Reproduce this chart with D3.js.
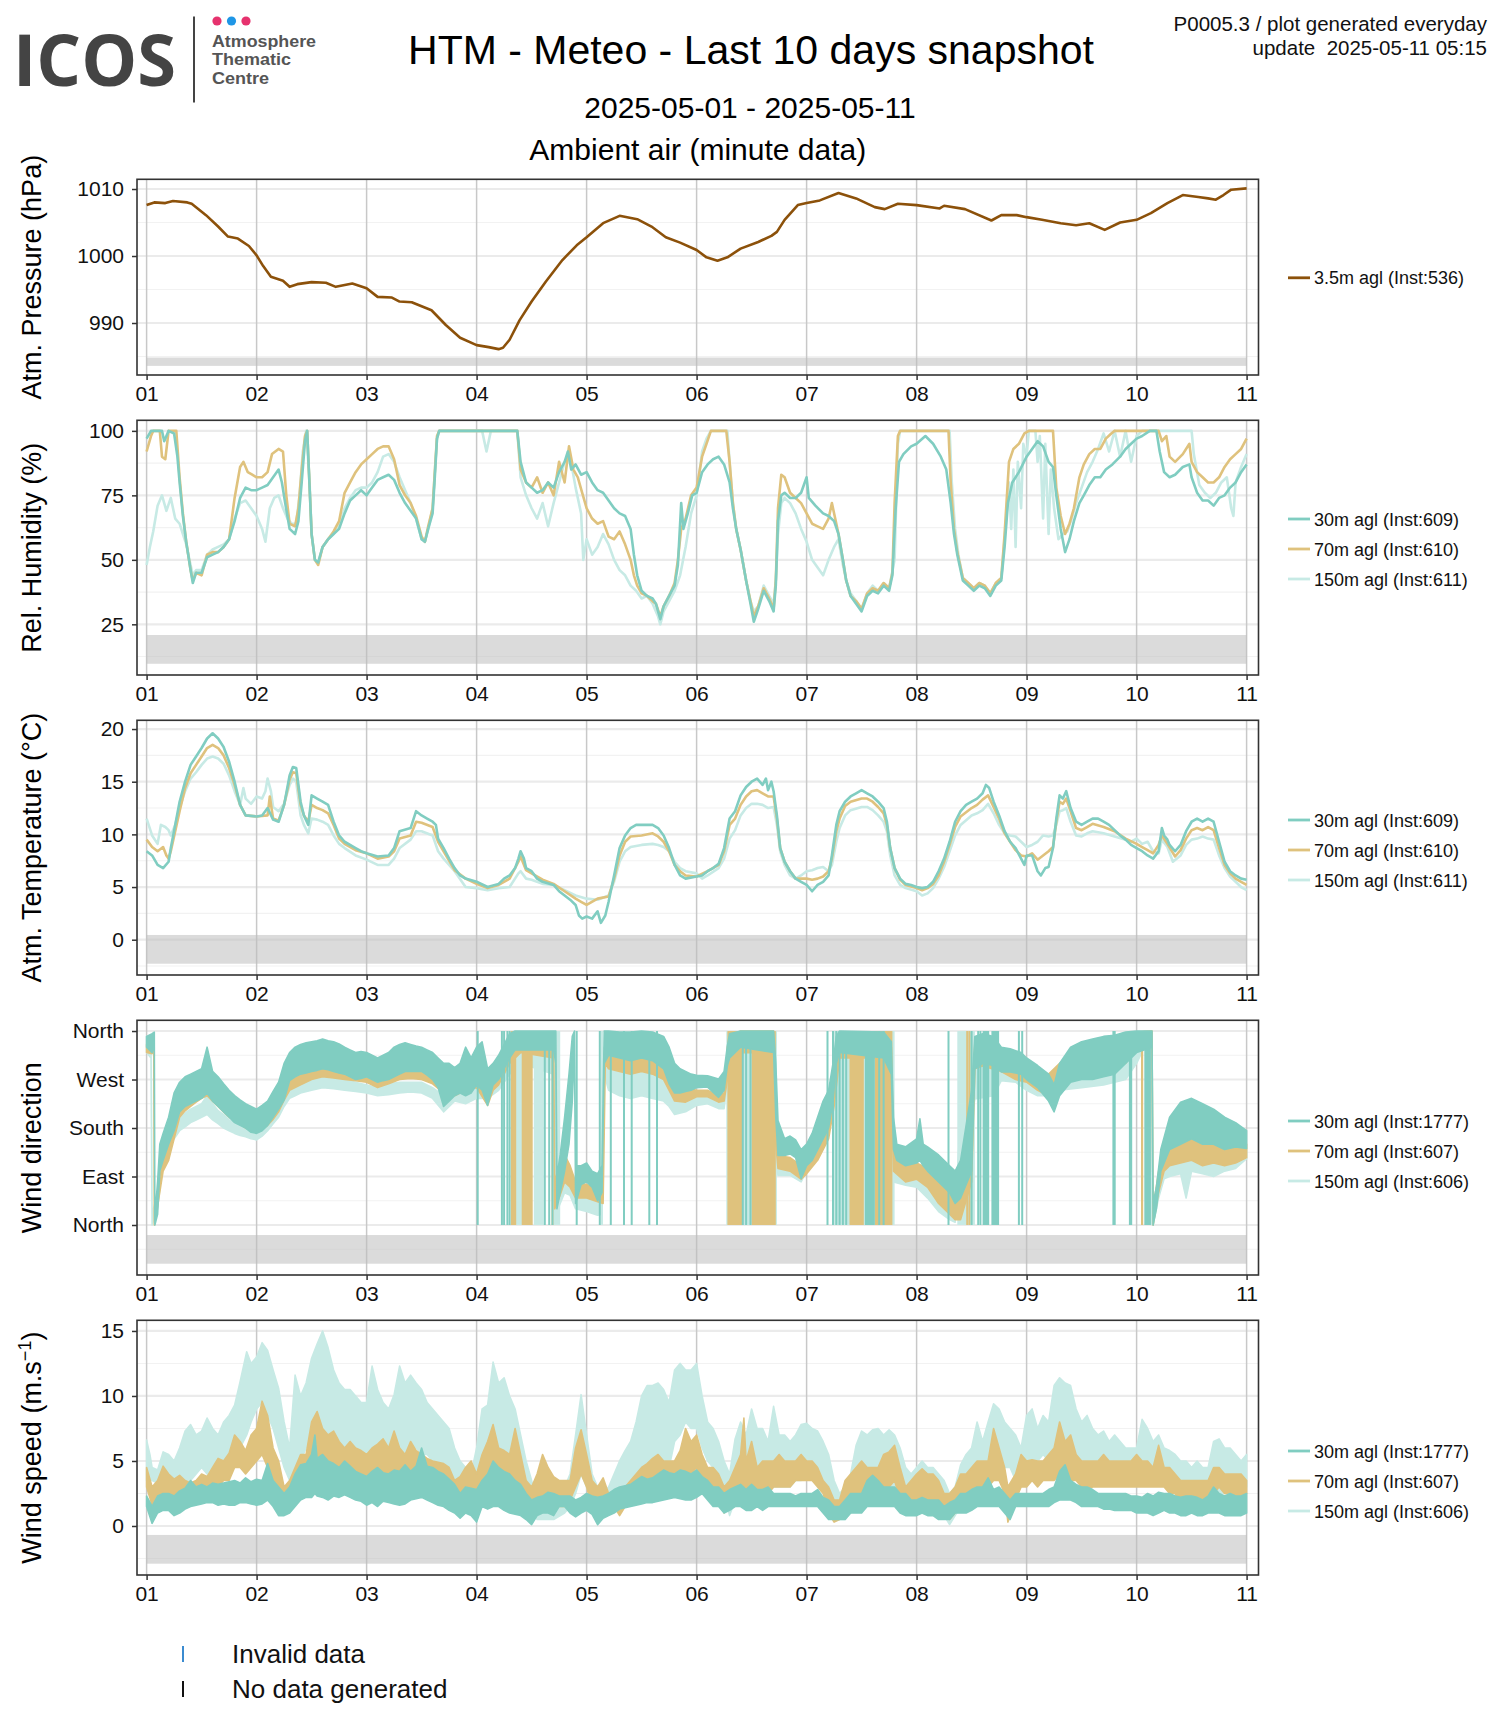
<!DOCTYPE html>
<html>
<head>
<meta charset="utf-8">
<script src="https://cdn.jsdelivr.net/npm/d3@7"></script>
<style>
  body { margin: 0; background: #fff; }
  svg text { font-family: "Liberation Sans", Arial, Helvetica, sans-serif; }
</style>
</head>
<body>
<svg id="chart" width="1500" height="1725"></svg>
<script>
// ---- data (t = days since 2025-05-01 00:00) ----
const dayLabels = ['01', '02', '03', '04', '05', '06', '07', '08', '09', '10', '11'];
const legendP = ['3.5m agl (Inst:536)'];
const legendRH = ['30m agl (Inst:609)', '70m agl (Inst:610)', '150m agl (Inst:611)'];
const legendWind = ['30m agl (Inst:1777)', '70m agl (Inst:607)', '150m agl (Inst:606)'];

const pressure = [[0,1007.6],[0.07,1008],[0.17,1007.9],[0.24,1008.2],[0.37,1008],[0.41,1007.8],[0.54,1006.1],[0.65,1004.4],[0.74,1002.9],[0.83,1002.6],[0.93,1001.5],[1,1000.1],[1.06,998.5],[1.13,996.9],[1.24,996.3],[1.3,995.4],[1.37,995.8],[1.5,996.1],[1.63,996],[1.72,995.4],[1.87,995.9],[2,995.2],[2.1,993.9],[2.23,993.8],[2.3,993.2],[2.41,993.1],[2.59,991.9],[2.72,989.7],[2.85,987.8],[3,986.7],[3.11,986.4],[3.2,986.1],[3.24,986.3],[3.3,987.5],[3.39,990.4],[3.5,993.2],[3.63,996.2],[3.78,999.4],[3.91,1001.6],[4,1002.8],[4.15,1004.9],[4.3,1006],[4.46,1005.5],[4.59,1004.4],[4.72,1002.8],[4.85,1002],[5,1000.9],[5.09,999.8],[5.19,999.3],[5.28,999.8],[5.4,1001.1],[5.56,1002.1],[5.68,1003],[5.73,1003.6],[5.8,1005.4],[5.92,1007.6],[6,1007.9],[6.12,1008.3],[6.29,1009.4],[6.45,1008.6],[6.62,1007.3],[6.71,1007],[6.83,1007.8],[7,1007.6],[7.21,1007.1],[7.25,1007.5],[7.44,1007],[7.68,1005.3],[7.77,1006.1],[7.91,1006.1],[8,1005.8],[8.14,1005.4],[8.31,1004.9],[8.45,1004.6],[8.57,1004.9],[8.71,1003.9],[8.85,1005],[9,1005.4],[9.13,1006.4],[9.28,1007.9],[9.42,1009.1],[9.56,1008.8],[9.65,1008.6],[9.72,1008.4],[9.79,1009.1],[9.86,1009.9],[10,1010.1]];

const rh30 = [[0,97],[0.04,100],[0.14,100],[0.16,96],[0.2,100],[0.25,99],[0.28,90],[0.3,80],[0.33,67],[0.36,57],[0.4,46],[0.42,41],[0.45,45],[0.5,45],[0.55,51],[0.6,52],[0.65,53],[0.7,55],[0.75,58],[0.8,65],[0.85,74],[0.9,78],[0.95,77],[1,77],[1.05,78],[1.1,79],[1.15,82],[1.2,85],[1.23,80],[1.26,72],[1.3,62],[1.35,60],[1.38,65],[1.41,80],[1.44,96],[1.46,100],[1.48,80],[1.5,60],[1.53,50],[1.56,49],[1.6,55],[1.65,58],[1.7,60],[1.75,62],[1.8,68],[1.85,73],[1.9,75],[1.95,77],[2,75],[2.05,78],[2.1,81],[2.15,82],[2.2,83],[2.25,81],[2.3,76],[2.35,72],[2.4,69],[2.45,66],[2.5,58],[2.53,57],[2.56,62],[2.6,68],[2.62,82],[2.64,97],[2.66,100],[3.37,100],[3.4,88],[3.45,80],[3.5,78],[3.55,76],[3.6,77],[3.65,80],[3.7,78],[3.75,84],[3.8,88],[3.83,92],[3.86,85],[3.9,87],[3.95,83],[4,84],[4.05,80],[4.1,77],[4.15,76],[4.2,73],[4.25,70],[4.3,68],[4.35,67],[4.4,62],[4.43,52],[4.46,44],[4.5,38],[4.55,36],[4.6,35],[4.63,33],[4.67,27],[4.7,32],[4.75,36],[4.8,40],[4.83,48],[4.86,72],[4.88,62],[4.92,68],[4.96,75],[5,76],[5.05,84],[5.1,87],[5.15,89],[5.2,90],[5.25,87],[5.3,80],[5.33,70],[5.36,62],[5.4,54],[5.45,42],[5.49,33],[5.52,26],[5.56,31],[5.61,38],[5.66,34],[5.7,30],[5.72,40],[5.74,65],[5.77,75],[5.8,76],[5.85,74],[5.9,74],[5.95,76],[6,82],[6.02,74],[6.08,71],[6.15,68],[6.2,67],[6.25,65],[6.29,60],[6.33,50],[6.36,42],[6.4,36],[6.45,33],[6.5,30],[6.55,36],[6.6,38],[6.65,37],[6.7,40],[6.75,38],[6.78,44],[6.81,70],[6.84,88],[6.88,91],[6.95,94],[7,95],[7.08,98],[7.15,95],[7.22,90],[7.27,85],[7.31,72],[7.34,60],[7.37,52],[7.42,42],[7.47,40],[7.52,38],[7.57,40],[7.62,39],[7.67,36],[7.72,40],[7.77,42],[7.8,55],[7.83,72],[7.87,80],[7.93,84],[8,90],[8.05,93],[8.1,96],[8.15,94],[8.2,88],[8.24,86],[8.27,75],[8.31,62],[8.35,53],[8.39,58],[8.43,65],[8.48,72],[8.52,75],[8.57,79],[8.62,82],[8.67,82],[8.72,85],[8.78,87],[8.85,90],[8.9,93],[8.95,95],[9,97],[9.05,98],[9.12,100],[9.18,100],[9.21,92],[9.25,84],[9.3,82],[9.35,83],[9.42,86],[9.48,87],[9.5,82],[9.55,76],[9.6,73],[9.65,73],[9.7,71],[9.75,74],[9.8,75],[9.85,78],[9.9,80],[9.95,84],[10,87]];

const rh70 = [[0,92],[0.04,98],[0.06,100],[0.12,100],[0.14,90],[0.17,89],[0.2,100],[0.27,100],[0.3,82],[0.33,68],[0.36,57],[0.4,46],[0.42,42],[0.45,45],[0.5,44],[0.55,52],[0.6,53],[0.65,53],[0.7,55],[0.75,58],[0.8,74],[0.85,86],[0.88,88],[0.92,84],[0.96,83],[1,82],[1.05,82],[1.1,84],[1.14,91],[1.2,93],[1.24,92],[1.27,75],[1.3,64],[1.35,63],[1.38,70],[1.41,85],[1.44,98],[1.46,100],[1.48,80],[1.5,60],[1.53,50],[1.56,48],[1.6,55],[1.65,58],[1.7,61],[1.75,65],[1.8,76],[1.85,80],[1.9,84],[1.95,87],[2,89],[2.05,91],[2.1,93],[2.15,94],[2.2,94],[2.25,89],[2.3,79],[2.35,75],[2.4,72],[2.45,67],[2.5,59],[2.53,57],[2.56,63],[2.6,70],[2.62,84],[2.64,98],[2.66,100],[3.37,100],[3.4,85],[3.45,80],[3.5,78],[3.55,82],[3.6,76],[3.65,80],[3.7,75],[3.75,88],[3.8,80],[3.84,94],[3.88,85],[3.92,82],[3.96,76],[4,70],[4.05,66],[4.1,64],[4.15,65],[4.2,59],[4.25,58],[4.3,61],[4.35,56],[4.4,50],[4.43,44],[4.46,40],[4.5,37],[4.55,36],[4.6,34],[4.63,33],[4.67,28],[4.7,32],[4.75,36],[4.8,41],[4.83,50],[4.86,62],[4.9,66],[4.95,75],[5,78],[5.05,90],[5.09,95],[5.13,100],[5.27,100],[5.3,88],[5.33,72],[5.36,62],[5.4,54],[5.45,42],[5.49,34],[5.52,28],[5.56,32],[5.61,39],[5.66,35],[5.7,31],[5.72,42],[5.74,70],[5.77,83],[5.8,82],[5.85,76],[5.9,74],[5.95,72],[6,68],[6.05,64],[6.1,63],[6.15,62],[6.2,66],[6.23,72],[6.26,66],[6.29,60],[6.33,50],[6.36,42],[6.4,36],[6.45,34],[6.5,31],[6.55,37],[6.6,39],[6.65,38],[6.7,41],[6.75,39],[6.78,45],[6.8,72],[6.83,98],[6.85,100],[7.29,100],[7.31,80],[7.34,62],[7.37,53],[7.42,43],[7.47,41],[7.52,39],[7.57,41],[7.62,40],[7.67,37],[7.72,41],[7.77,43],[7.8,60],[7.84,88],[7.88,93],[7.93,95],[7.98,99],[8.02,100],[8.24,100],[8.27,78],[8.31,67],[8.35,60],[8.39,64],[8.43,70],[8.48,82],[8.52,87],[8.57,91],[8.62,93],[8.67,93],[8.72,97],[8.77,99],[8.8,100],[9.2,100],[9.23,96],[9.27,98],[9.3,90],[9.35,88],[9.42,91],[9.48,95],[9.5,88],[9.55,84],[9.6,82],[9.65,80],[9.7,80],[9.75,82],[9.8,86],[9.85,89],[9.9,91],[9.95,93],[10,97]];

const rh150 = [[0,48],[0.03,55],[0.06,61],[0.1,71],[0.14,75],[0.18,69],[0.22,74],[0.26,66],[0.3,64],[0.33,60],[0.36,56],[0.4,48],[0.42,44],[0.45,46],[0.5,46],[0.55,52],[0.6,54],[0.65,55],[0.7,56],[0.75,58],[0.8,66],[0.85,72],[0.9,73],[0.95,70],[1,67],[1.05,62],[1.08,57],[1.12,70],[1.16,74],[1.2,75],[1.24,70],[1.28,66],[1.32,64],[1.36,64],[1.39,75],[1.42,92],[1.45,100],[1.48,82],[1.5,60],[1.53,50],[1.56,49],[1.6,55],[1.65,58],[1.7,60],[1.75,63],[1.8,70],[1.85,74],[1.9,77],[1.95,78],[2,78],[2.05,80],[2.1,84],[2.15,90],[2.2,91],[2.25,88],[2.3,82],[2.35,77],[2.4,72],[2.45,66],[2.5,58],[2.53,57],[2.56,62],[2.6,70],[2.62,84],[2.64,97],[2.66,100],[3.05,100],[3.09,92],[3.13,100],[3.37,100],[3.4,82],[3.45,75],[3.5,70],[3.55,66],[3.6,72],[3.65,63],[3.7,72],[3.75,80],[3.8,88],[3.85,90],[3.9,78],[3.95,68],[3.97,50],[4,58],[4.05,52],[4.1,55],[4.15,60],[4.2,56],[4.25,50],[4.3,46],[4.35,44],[4.4,40],[4.45,38],[4.5,35],[4.55,36],[4.6,33],[4.65,28],[4.67,25],[4.7,30],[4.75,34],[4.8,38],[4.85,44],[4.9,55],[4.95,68],[5,75],[5.05,92],[5.09,97],[5.13,100],[5.28,100],[5.3,88],[5.33,72],[5.36,62],[5.4,54],[5.45,42],[5.49,34],[5.52,30],[5.56,32],[5.61,40],[5.66,36],[5.7,33],[5.72,42],[5.74,60],[5.77,72],[5.8,74],[5.85,72],[5.9,68],[5.95,62],[6,57],[6.05,50],[6.1,47],[6.15,44],[6.2,50],[6.25,55],[6.29,58],[6.33,48],[6.36,42],[6.4,37],[6.45,34],[6.5,31],[6.55,37],[6.6,40],[6.65,38],[6.7,41],[6.75,39],[6.8,50],[6.83,95],[6.85,100],[7.3,100],[7.32,80],[7.35,62],[7.38,52],[7.42,43],[7.47,41],[7.52,39],[7.57,41],[7.62,40],[7.67,37],[7.72,41],[7.77,43],[7.8,58],[7.84,80],[7.86,62],[7.88,85],[7.9,55],[7.92,88],[7.95,70],[7.97,95],[8,90],[8.02,100],[8.08,100],[8.1,88],[8.12,98],[8.15,66],[8.17,95],[8.2,60],[8.22,85],[8.25,70],[8.29,58],[8.33,60],[8.37,61],[8.41,66],[8.45,72],[8.5,78],[8.55,84],[8.6,88],[8.65,93],[8.7,99],[8.75,92],[8.8,100],[8.85,90],[8.9,100],[8.95,88],[9,98],[9.05,100],[9.5,100],[9.52,91],[9.57,79],[9.62,76],[9.67,74],[9.72,76],[9.77,80],[9.82,82],[9.86,70],[9.88,67],[9.9,80],[9.95,86],[10,91]];

const temp30 = [[0,8.4],[0.05,8],[0.1,7.1],[0.15,6.8],[0.2,7.4],[0.22,8.7],[0.26,10.9],[0.3,13.1],[0.35,15],[0.4,16.6],[0.45,17.4],[0.5,18.2],[0.55,19.1],[0.6,19.6],[0.65,19.1],[0.7,18.3],[0.75,16.9],[0.8,15],[0.85,12.8],[0.9,11.8],[1,11.7],[1.05,11.8],[1.1,12.5],[1.15,11.4],[1.2,11.2],[1.25,12.8],[1.3,15.6],[1.33,16.4],[1.36,16.3],[1.4,13.1],[1.43,11.8],[1.47,10.9],[1.5,13.7],[1.55,13.4],[1.6,13.1],[1.65,12.8],[1.7,11.2],[1.75,9.9],[1.8,9.3],[1.9,8.7],[1.95,8.4],[2,8.2],[2.1,7.9],[2.2,8],[2.25,8.7],[2.3,10.3],[2.4,10.6],[2.45,12.2],[2.5,11.8],[2.55,11.5],[2.6,11.2],[2.63,10.9],[2.65,9.6],[2.7,8.7],[2.75,7.7],[2.8,6.8],[2.85,6.1],[2.9,5.8],[3,5.5],[3.1,5],[3.2,5.3],[3.25,5.8],[3.3,6.1],[3.35,6.8],[3.38,7.7],[3.4,8.4],[3.43,7.7],[3.45,6.8],[3.5,6.5],[3.55,5.8],[3.6,5.5],[3.7,5.2],[3.75,4.6],[3.8,4.2],[3.85,3.8],[3.9,3.3],[3.93,2.3],[3.96,2],[4,2.2],[4.05,2],[4.1,2.7],[4.13,1.6],[4.17,2.3],[4.2,3.6],[4.25,6.1],[4.3,8.7],[4.35,9.9],[4.4,10.6],[4.45,10.9],[4.5,10.9],[4.55,10.9],[4.6,10.9],[4.65,10.6],[4.7,9.9],[4.75,8.7],[4.8,7.1],[4.85,6.1],[4.9,5.8],[5,6],[5.05,6.1],[5.1,6.5],[5.15,6.8],[5.2,7.2],[5.25,8.7],[5.3,11.5],[5.35,12.2],[5.4,13.7],[5.45,14.5],[5.5,15],[5.55,15.3],[5.6,14.7],[5.63,15.3],[5.65,14.2],[5.68,15],[5.7,14.1],[5.73,11.8],[5.76,8.7],[5.8,7.4],[5.85,6.5],[5.9,5.8],[5.95,5.5],[6,5.2],[6.05,4.6],[6.1,5.2],[6.15,5.5],[6.2,6.1],[6.23,8],[6.27,10.9],[6.3,12.2],[6.35,13.1],[6.4,13.6],[6.45,13.9],[6.5,14.2],[6.55,13.9],[6.6,13.6],[6.65,13.1],[6.7,12.5],[6.73,11.2],[6.76,8.7],[6.8,6.8],[6.85,5.8],[6.9,5.3],[6.95,5.2],[7,5],[7.05,4.9],[7.1,5],[7.15,5.5],[7.2,6.5],[7.25,7.7],[7.3,9.3],[7.35,11.2],[7.4,12.2],[7.45,12.8],[7.5,13.1],[7.55,13.4],[7.6,13.9],[7.63,14.7],[7.66,14.4],[7.7,13.1],[7.75,11.8],[7.8,10.3],[7.85,9.3],[7.9,8.7],[7.95,7.7],[7.98,7.1],[8,8],[8.05,8],[8.1,6.5],[8.13,6.1],[8.17,6.8],[8.2,6.9],[8.24,8.7],[8.27,11.5],[8.3,13.7],[8.33,13.4],[8.36,14.1],[8.4,12.5],[8.45,11.2],[8.5,10.9],[8.55,11.2],[8.6,11.5],[8.65,11.5],[8.7,11.2],[8.75,10.9],[8.8,10.4],[8.85,9.9],[8.9,9.5],[8.95,9],[9,8.7],[9.05,8.4],[9.1,8],[9.15,7.7],[9.2,8.4],[9.23,10.6],[9.25,9.9],[9.28,9.5],[9.3,9],[9.35,8.4],[9.4,9],[9.45,10.3],[9.5,11.2],[9.55,11.5],[9.6,11.2],[9.65,11.5],[9.7,11.2],[9.75,9.3],[9.8,7.4],[9.85,6.5],[9.9,6.1],[9.95,5.8],[10,5.7]];

const temp70 = [[0,9.5],[0.05,8.8],[0.1,8.4],[0.15,8.8],[0.18,8],[0.2,7.7],[0.22,8.4],[0.26,10.3],[0.3,12.2],[0.35,14.4],[0.4,15.8],[0.45,16.6],[0.5,17.4],[0.55,18.2],[0.6,18.5],[0.65,18.2],[0.7,17.5],[0.75,16.3],[0.8,14.7],[0.85,12.8],[0.9,11.8],[1,11.7],[1.1,11.8],[1.12,13.6],[1.15,11.5],[1.2,11.3],[1.25,12.8],[1.3,15.2],[1.33,15.9],[1.36,15.8],[1.4,12.8],[1.43,11.8],[1.47,11.2],[1.5,12.8],[1.55,12.5],[1.6,12.3],[1.65,12],[1.7,10.9],[1.75,9.6],[1.8,9.1],[1.9,8.5],[2,8.2],[2.1,7.7],[2.2,7.9],[2.25,8.4],[2.3,9.6],[2.4,9.9],[2.45,11.2],[2.5,11.1],[2.6,10.7],[2.65,9.3],[2.7,8.4],[2.8,6.6],[2.9,5.8],[3,5.3],[3.1,4.9],[3.2,5.2],[3.3,5.8],[3.38,7.4],[3.4,7.9],[3.45,6.6],[3.5,6.3],[3.6,5.7],[3.7,5.3],[3.8,4.6],[3.9,3.9],[3.95,3.6],[4,3.3],[4.1,3.9],[4.2,4.1],[4.25,5.8],[4.3,8],[4.35,9.3],[4.4,9.8],[4.5,9.9],[4.6,10.1],[4.65,9.8],[4.7,9.3],[4.75,8.4],[4.8,7.1],[4.85,6.5],[4.9,6.1],[5,6],[5.1,6.5],[5.2,7.1],[5.25,8.4],[5.3,10.9],[5.35,11.5],[5.4,12.8],[5.45,13.6],[5.5,14.1],[5.55,14.2],[5.6,13.9],[5.65,13.6],[5.7,13.6],[5.73,11.5],[5.76,8.7],[5.8,7.4],[5.85,6.5],[5.9,5.8],[6,5.8],[6.05,5.7],[6.1,5.8],[6.15,6],[6.2,6.5],[6.23,7.7],[6.27,10.3],[6.3,11.5],[6.35,12.7],[6.4,13.1],[6.5,13.4],[6.55,13.4],[6.6,13.1],[6.65,12.6],[6.7,12],[6.73,10.9],[6.76,8.7],[6.8,6.8],[6.85,5.7],[6.9,5.2],[7,4.9],[7.05,4.7],[7.1,4.9],[7.15,5.3],[7.2,6.1],[7.25,7.4],[7.3,9],[7.35,10.7],[7.4,11.7],[7.5,12.5],[7.55,12.8],[7.6,13.3],[7.65,13.7],[7.7,12.6],[7.75,11.5],[7.8,10.1],[7.85,9.3],[7.9,8.5],[7.95,8],[8,7.9],[8.05,8.2],[8.1,7.6],[8.15,8],[8.2,8.4],[8.24,8.8],[8.27,11.2],[8.3,13.1],[8.33,12.9],[8.36,13.4],[8.4,12.2],[8.45,10.6],[8.5,10.4],[8.55,10.7],[8.6,11],[8.7,10.7],[8.8,10.3],[8.9,9.6],[9,9.1],[9.05,8.8],[9.1,8.5],[9.15,8.2],[9.2,9],[9.23,9.9],[9.28,9.1],[9.35,7.9],[9.4,8.5],[9.45,9.6],[9.5,10.4],[9.55,10.6],[9.6,10.4],[9.65,10.7],[9.7,10.4],[9.75,8.7],[9.8,7.1],[9.85,6.3],[9.9,5.8],[9.95,5.5],[10,5.2]];

const temp150 = [[0,11.5],[0.05,9.9],[0.1,9.1],[0.13,10.9],[0.17,10.7],[0.2,10.4],[0.22,9.9],[0.26,10.9],[0.3,12.5],[0.35,14.1],[0.4,15.3],[0.45,15.9],[0.5,16.6],[0.55,17.2],[0.6,17.4],[0.65,17.2],[0.7,16.7],[0.75,15.6],[0.8,14.1],[0.85,12.8],[0.88,14.4],[0.9,13.4],[0.95,12.9],[1,13.6],[1.05,13.4],[1.08,14.1],[1.1,15.3],[1.13,14.1],[1.15,12.6],[1.2,12.2],[1.25,12.9],[1.3,14.7],[1.33,15.3],[1.36,15],[1.4,11.8],[1.43,10.9],[1.47,10.1],[1.5,11.5],[1.55,11.4],[1.6,11.2],[1.65,10.9],[1.7,9.9],[1.75,9.1],[1.8,8.7],[1.9,8],[2,7.6],[2.1,7.1],[2.2,7.1],[2.25,7.7],[2.3,8.7],[2.4,9.5],[2.45,10.3],[2.5,10.3],[2.6,9.9],[2.65,8.4],[2.7,7.7],[2.8,6.5],[2.9,5],[3,4.9],[3.1,4.7],[3.2,4.9],[3.3,5],[3.38,6.3],[3.4,6.5],[3.45,5.8],[3.5,5.7],[3.6,5.3],[3.7,5.2],[3.8,4.7],[3.9,4.2],[4,3.9],[4.1,3.8],[4.2,4.2],[4.25,5.5],[4.3,7.4],[4.35,8.4],[4.4,8.8],[4.5,9],[4.6,9.1],[4.65,9],[4.7,8.8],[4.75,8.4],[4.8,7.4],[4.85,6.8],[4.9,6.5],[5,6.3],[5.05,5.8],[5.1,6.1],[5.2,6.8],[5.25,7.7],[5.3,9.6],[5.35,10.4],[5.4,11.8],[5.45,12.5],[5.5,12.9],[5.55,12.9],[5.6,12.8],[5.65,12.5],[5.7,12.6],[5.73,10.9],[5.76,8.4],[5.8,7.1],[5.85,6.1],[5.9,5.8],[5.95,6.1],[6,6.5],[6.05,6.6],[6.1,6.8],[6.15,6.9],[6.2,6.5],[6.23,7.1],[6.27,9.3],[6.3,10.6],[6.35,11.8],[6.4,12.3],[6.5,12.6],[6.55,12.6],[6.6,12.3],[6.65,11.8],[6.7,11.2],[6.73,10.3],[6.76,8],[6.8,6.1],[6.85,5.2],[6.9,4.9],[7,4.6],[7.05,4.2],[7.1,4.4],[7.15,4.9],[7.2,5.8],[7.25,6.9],[7.3,8.4],[7.35,9.9],[7.4,10.9],[7.5,11.8],[7.55,12],[7.6,12.3],[7.65,12.9],[7.7,12],[7.75,10.9],[7.8,10.1],[7.85,9.9],[7.9,9.8],[7.95,9.3],[8,8.8],[8.05,9],[8.1,9.3],[8.15,9.9],[8.2,9.8],[8.24,9.9],[8.27,10.9],[8.3,12.2],[8.33,12.3],[8.36,12.5],[8.4,11.2],[8.45,9.9],[8.5,9.8],[8.55,10.1],[8.6,10.3],[8.7,10.1],[8.8,9.8],[8.9,9.5],[8.95,9.3],[9,9.6],[9.05,9.1],[9.1,9.3],[9.15,8.4],[9.2,8.2],[9.23,9.5],[9.28,8.8],[9.33,7.4],[9.4,8],[9.45,9],[9.5,9.5],[9.55,9.6],[9.6,9.8],[9.65,9.6],[9.7,9.5],[9.75,8],[9.8,6.8],[9.85,6],[9.9,5.5],[9.95,5],[10,4.7]];

// wind direction: [t, low, high] envelope of the minute trace (degrees)
const wdir30 = [[0,330,350],[0.05,320,355],[0.07,335,358],[0.075,0,15],[0.1,20,80],[0.12,100,150],[0.15,120,170],[0.2,150,200],[0.25,175,245],[0.3,210,265],[0.35,220,275],[0.4,225,280],[0.45,230,285],[0.5,235,290],[0.55,245,330],[0.6,230,285],[0.65,220,275],[0.7,210,262],[0.75,200,250],[0.8,190,240],[0.85,185,232],[0.9,180,225],[0.95,172,220],[1,170,215],[1.05,175,222],[1.1,185,230],[1.15,200,248],[1.2,215,265],[1.25,232,300],[1.3,268,320],[1.35,275,330],[1.4,280,335],[1.45,282,338],[1.5,285,340],[1.55,287,342],[1.6,290,345],[1.65,288,342],[1.7,285,340],[1.75,282,336],[1.8,280,330],[1.85,275,325],[1.9,270,320],[1.95,272,322],[2,275,320],[2.05,270,315],[2.1,265,310],[2.15,268,315],[2.2,270,320],[2.25,275,330],[2.3,280,335],[2.35,285,338],[2.4,285,335],[2.45,285,332],[2.5,285,330],[2.55,278,325],[2.6,270,320],[2.65,255,310],[2.7,220,300],[2.75,230,300],[2.8,240,292],[2.85,245,300],[2.9,240,330],[2.95,245,310],[3,260,330],[3.05,250,340],[3.1,222,290],[3.15,260,300],[3.2,270,315],[3.25,290,335],[3.3,310,355],[3.35,325,360],[3.7,325,360],[3.72,300,360],[3.73,30,90],[3.76,60,130],[3.8,100,200],[3.84,150,280],[3.87,230,350],[3.89,330,360],[3.9,40,110],[3.95,75,110],[4,80,115],[4.05,70,100],[4.1,45,95],[4.14,60,110],[4.16,300,360],[4.2,315,360],[4.3,310,358],[4.4,305,358],[4.5,310,360],[4.6,305,358],[4.7,290,350],[4.75,262,330],[4.8,245,300],[4.85,245,290],[4.9,248,285],[4.95,250,280],[5,255,278],[5.1,256,277],[5.2,237,271],[5.25,250,285],[5.28,296,333],[5.3,310,355],[5.4,330,360],[5.7,320,360],[5.72,200,300],[5.74,129,194],[5.8,129,160],[5.85,132,165],[5.9,125,158],[5.95,86,140],[6,110,150],[6.05,120,170],[6.1,140,200],[6.15,160,230],[6.2,180,250],[6.24,230,300],[6.27,300,350],[6.3,320,360],[6.7,310,358],[6.77,280,340],[6.79,140,200],[6.82,120,150],[6.9,110,145],[7,115,160],[7.03,120,197],[7.06,110,150],[7.1,100,145],[7.2,80,130],[7.3,60,110],[7.35,40,100],[7.4,50,120],[7.5,100,250],[7.53,290,350],[7.6,300,355],[7.7,296,350],[7.77,284,330],[7.85,284,327],[7.95,280,320],[8,270,310],[8.1,255,296],[8.2,230,280],[8.25,210,260],[8.3,240,300],[8.4,265,330],[8.5,270,340],[8.6,270,345],[8.7,275,350],[8.8,280,352],[8.9,300,358],[9,320,360],[9.14,330,360],[9.15,0,40],[9.18,30,70],[9.22,100,140],[9.3,140,200],[9.4,150,228],[9.5,160,235],[9.6,150,225],[9.7,150,215],[9.8,140,200],[9.9,145,190],[10,142,175]];

const wdir70 = [[0,320,335],[0.05,318,335],[0.065,320,342],[0.07,0,20],[0.1,35,60],[0.15,100,125],[0.2,120,160],[0.25,160,200],[0.3,200,240],[0.35,212,245],[0.4,220,250],[0.45,228,258],[0.5,235,265],[0.55,240,270],[0.6,230,255],[0.65,220,245],[0.7,210,235],[0.75,200,222],[0.8,195,215],[0.85,188,206],[0.9,180,200],[0.95,176,194],[1,172,190],[1.05,178,196],[1.1,185,205],[1.15,196,220],[1.2,210,235],[1.25,232,255],[1.3,250,270],[1.35,255,280],[1.4,260,290],[1.5,270,295],[1.6,275,300],[1.7,273,298],[1.8,270,295],[1.9,268,290],[2,265,285],[2.1,255,275],[2.2,262,285],[2.3,270,295],[2.4,272,295],[2.5,270,290],[2.6,262,285],[2.7,245,270],[2.8,240,265],[2.9,250,275],[3,255,290],[3.1,222,260],[3.15,250,275],[3.2,260,300],[3.3,300,340],[3.4,320,355],[3.7,310,350],[3.71,30,80],[3.75,50,110],[3.8,80,130],[3.85,70,110],[3.9,50,80],[4,50,75],[4.1,43,68],[4.15,40,70],[4.17,300,350],[4.2,290,340],[4.3,285,340],[4.4,280,335],[4.5,285,340],[4.6,280,335],[4.7,270,320],[4.75,250,290],[4.8,230,265],[4.9,228,255],[5,238,250],[5.1,238,250],[5.2,228,240],[5.25,230,245],[5.28,270,330],[5.3,300,350],[5.4,320,360],[5.7,320,360],[5.72,150,250],[5.74,105,129],[5.85,100,125],[5.95,85,110],[6,95,125],[6.1,120,160],[6.2,160,220],[6.25,220,280],[6.3,310,358],[6.7,310,358],[6.77,250,330],[6.79,100,140],[6.9,80,117],[7,85,115],[7.1,70,105],[7.2,40,90],[7.3,20,60],[7.35,10,40],[7.4,10,50],[7.5,80,200],[7.53,290,340],[7.6,295,335],[7.77,285,320],[7.9,270,300],[8,265,295],[8.1,250,285],[8.2,240,280],[8.3,260,300],[8.4,275,315],[8.5,280,320],[8.7,285,325],[8.9,300,340],[9,330,358],[9.14,330,360],[9.15,0,30],[9.2,60,100],[9.25,100,150],[9.3,110,160],[9.4,115,165],[9.5,120,165],[9.6,110,160],[9.7,115,150],[9.8,110,150],[9.9,115,145],[10,125,150]];

const wdir150 = [[0,320,350],[0.04,310,345],[0.05,0,20],[0.1,30,60],[0.15,125,150],[0.2,150,170],[0.25,160,185],[0.3,175,200],[0.35,182,208],[0.4,190,215],[0.45,195,220],[0.5,200,225],[0.55,205,240],[0.6,195,225],[0.65,188,212],[0.7,180,205],[0.75,175,195],[0.8,170,190],[0.85,166,185],[0.9,164,182],[0.95,160,178],[1,158,175],[1.05,165,185],[1.1,175,195],[1.15,188,210],[1.2,200,225],[1.25,220,242],[1.3,235,255],[1.35,240,260],[1.4,245,265],[1.5,250,275],[1.6,255,275],[1.7,253,272],[1.8,250,270],[1.9,248,265],[2,245,260],[2.1,240,255],[2.2,242,262],[2.3,245,265],[2.4,247,265],[2.5,245,265],[2.6,235,255],[2.7,210,240],[2.8,230,250],[2.9,225,250],[3,235,265],[3.1,235,250],[3.2,250,275],[3.3,280,320],[3.4,300,340],[3.7,280,330],[3.72,20,60],[3.76,40,80],[3.8,60,110],[3.85,55,90],[3.9,30,60],[4,25,55],[4.1,18,45],[4.14,20,50],[4.16,280,330],[4.2,250,320],[4.3,240,310],[4.4,235,300],[4.5,240,305],[4.6,235,300],[4.7,230,290],[4.75,220,265],[4.8,205,250],[4.9,210,245],[5,222,240],[5.1,225,238],[5.2,216,231],[5.25,216,228],[5.28,265,300],[5.3,280,330],[5.4,290,340],[5.7,290,340],[5.72,120,200],[5.74,92,111],[5.85,92,108],[5.95,80,100],[6,100,123],[6.1,140,170],[6.2,190,230],[6.25,230,260],[6.3,265,327],[6.7,265,327],[6.77,200,280],[6.79,80,110],[6.9,74,105],[7,70,100],[7.1,50,85],[7.2,25,70],[7.3,10,40],[7.35,5,30],[7.4,100,200],[7.53,234,296],[7.7,240,290],[7.77,268,290],[7.9,265,290],[8,250,285],[8.1,240,275],[8.2,240,270],[8.3,250,280],[8.5,255,285],[8.7,260,290],[8.9,270,300],[9,300,330],[9.07,330,360],[9.14,320,360],[9.15,0,25],[9.2,50,90],[9.25,86,130],[9.3,90,140],[9.4,95,145],[9.45,50,140],[9.5,100,150],[9.6,95,145],[9.7,90,140],[9.8,100,135],[9.9,105,135],[10,123,142]];

// stretches where the trace keeps wrapping North<->North (solid), and single wraps
const wdirWrap30 = [[6.53,6.62],[7.6,7.66],[7.68,7.75],[8.78,8.81],[8.93,8.96],[9.07,9.13]];
const wdirWrap70 = [[3.31,3.36],[3.41,3.51],[5.28,5.42],[5.5,5.72],[6.39,6.52],[6.62,6.78],[9.04,9.06]];
const wdirWrap150 = [[3.33,3.42],[3.52,3.61],[3.7,3.76],[5.27,5.73],[6.25,6.8],[7.37,7.53],[9.08,9.14]];
const wdirSpike30 = [3.01,3.23,3.25,3.28,3.3,3.62,3.66,3.69,3.91,4.12,4.22,4.34,4.41,4.57,4.64,5.42,5.45,5.49,6.19,6.24,6.27,6.3,6.33,6.36,6.66,6.7,7.29,7.5,7.56,7.58,7.93,7.96];
const wdirSpike70 = [3.69,6.56,6.58,7.46,7.48];
const wdirSpike150 = [4.14];

// wind speed: [t, low, high] envelope (m/s)
const wspd30 = [[0,1.5,2.3],[0.05,0.2,1.5],[0.1,1,2.3],[0.15,1.2,2.5],[0.2,1.2,2.5],[0.25,0.8,2.3],[0.3,1,2.7],[0.35,1.3,2.9],[0.4,1.5,3.5],[0.45,1.6,3],[0.5,1.7,3.2],[0.55,1.8,3],[0.6,1.8,3.3],[0.65,1.6,3.2],[0.7,1.7,3.3],[0.75,1.6,3.4],[0.8,1.6,3.5],[0.85,1.8,3.3],[0.9,1.8,3.7],[0.95,1.7,3.4],[1,1.6,3.6],[1.05,1.7,3.5],[1.1,2,4.8],[1.15,1.5,3.5],[1.2,0.8,3],[1.25,0.8,2.5],[1.3,1,3],[1.35,1.5,4],[1.4,2,4.7],[1.45,2.2,4.8],[1.5,2.2,5.5],[1.53,2.5,7],[1.55,2.3,5.2],[1.6,2.2,5.5],[1.65,2,5],[1.7,2.3,4.8],[1.75,2.2,4.5],[1.8,2.4,5],[1.85,2.2,4.6],[1.9,2,4.2],[1.95,1.9,4],[2,1.6,3.8],[2.05,1.8,4.2],[2.1,1.5,4.5],[2.15,1.9,4.1],[2.2,1.8,4],[2.25,1.7,4.3],[2.3,1.6,4.2],[2.35,1.7,4.7],[2.4,2,4.2],[2.45,2.1,4.6],[2.5,2.2,6],[2.55,2,4.6],[2.6,1.8,4.5],[2.65,1.6,4.2],[2.7,1.5,4],[2.75,1.2,3.6],[2.8,1,3.2],[2.85,0.6,2.5],[2.9,1,3],[2.95,0.8,2.9],[3,0.3,2.8],[3.05,1.5,3.5],[3.1,1.3,4],[3.15,1.5,5],[3.2,1.5,4.5],[3.25,1.2,4.2],[3.3,1,4],[3.35,0.9,3.5],[3.4,0.8,3.2],[3.45,0.5,2.5],[3.5,0.1,2],[3.55,0.8,2.2],[3.6,1,2.3],[3.65,1,2.6],[3.7,0.8,2.5],[3.75,1.5,2.3],[3.8,1.5,2.3],[3.85,1,2.3],[3.9,0.7,2],[3.95,1,2.2],[4,1.2,2.5],[4.05,0.9,2.3],[4.1,0.1,2.2],[4.15,0.6,2.3],[4.2,0.8,2.5],[4.25,1,2.8],[4.3,1.3,3],[4.35,1.4,3.1],[4.4,1.5,3.2],[4.45,1.6,3.5],[4.5,1.7,3.8],[4.55,1.8,3.6],[4.6,1.8,3.7],[4.65,1.9,4],[4.7,2,4.3],[4.75,2.1,4.1],[4.8,2.2,4],[4.85,2.1,4.3],[4.9,2,4.2],[4.95,2,4],[5,2.2,4.3],[5.05,2.5,3.8],[5.1,2,3.5],[5.15,1.5,3],[5.2,1.5,3],[5.25,1,2.5],[5.3,1.2,2.8],[5.35,1.5,3],[5.4,1.5,3.2],[5.45,1.2,2.8],[5.5,1.2,3.2],[5.55,1.5,2.8],[5.6,1.2,2.8],[5.65,1.5,3],[5.7,1.5,2.5],[5.75,1.5,2.5],[5.8,1.5,2.5],[5.85,1.5,2.5],[5.9,1.5,2.3],[5.95,1.5,2.5],[6,1.5,2.5],[6.05,1.5,2.5],[6.1,1.5,2.8],[6.15,1,2.2],[6.2,0.5,2],[6.25,0.5,1.5],[6.3,0.5,1.5],[6.35,0.5,2],[6.4,1,2.5],[6.45,1,2.5],[6.5,1,2.5],[6.55,1.5,3.5],[6.6,1.5,3.9],[6.65,1.5,3.5],[6.7,1.5,3],[6.75,1.5,3],[6.8,1.5,3],[6.85,1,2.5],[6.9,0.8,2.5],[6.95,0.8,2],[7,0.8,2],[7.05,1,2.2],[7.1,0.8,2],[7.15,0.8,2],[7.2,0.5,2],[7.25,0.5,1.5],[7.3,0.5,1.8],[7.35,1,2],[7.4,1,2.5],[7.45,1,2.5],[7.5,1.2,2.8],[7.55,1.5,3],[7.6,1.5,3],[7.65,1.5,3.7],[7.7,1.5,2.8],[7.75,1.5,3],[7.8,1,2.5],[7.85,0.5,2],[7.9,1.5,2.5],[7.95,1.5,2.5],[8,1.5,2.5],[8.05,1.5,2.5],[8.1,1.5,2.5],[8.15,1.5,2.5],[8.2,1.5,2.8],[8.25,1.8,3],[8.3,2,4.2],[8.35,2,4.7],[8.4,2,3.5],[8.45,1.8,3.2],[8.5,1.5,3],[8.55,1.5,3],[8.6,1.5,2.8],[8.65,1.5,2.5],[8.7,1.3,2.5],[8.75,1.3,2.5],[8.8,1.2,2.5],[8.85,1.2,2.5],[8.9,1.2,2.5],[8.95,1.2,2.3],[9,1,2.3],[9.05,1,2.2],[9.1,1,2.5],[9.15,0.8,2.3],[9.2,1,2.6],[9.25,1.2,2.5],[9.3,1,2.5],[9.35,1,2.3],[9.4,0.8,2.2],[9.45,0.8,2.3],[9.5,1,2.3],[9.55,0.8,2.2],[9.6,0.8,2],[9.65,1,2.3],[9.7,1,3],[9.75,1,2.5],[9.8,0.8,2.3],[9.85,0.8,2.5],[9.9,0.8,2.3],[9.95,0.8,2.3],[10,1,2.5]];

const wspd70 = [[0,3,4.5],[0.05,1.6,3],[0.1,1.5,3.5],[0.15,2.5,4.6],[0.2,2,4],[0.25,1.8,3.6],[0.3,1.3,3.9],[0.35,1.8,3.5],[0.4,1.6,3.3],[0.45,2,3.5],[0.5,2.2,4],[0.55,2,3.8],[0.6,2.8,4.5],[0.65,3,5.2],[0.7,3.5,5],[0.75,3.5,5.6],[0.8,4.5,7],[0.85,4.5,6.5],[0.9,4,5.8],[0.95,4.5,7],[1,5,7.5],[1.05,5.5,9.6],[1.1,4.5,8.5],[1.15,3.5,6],[1.2,2.2,5],[1.25,1.5,3],[1.3,1.8,3.5],[1.35,2.5,4.5],[1.4,3,5.5],[1.45,3.2,5.5],[1.5,3.5,8],[1.55,4,8.8],[1.6,3.5,7.5],[1.65,3.5,7],[1.7,3.5,7.3],[1.75,3.5,6.5],[1.8,3,6],[1.85,3.5,6.5],[1.9,3.2,6],[1.95,3,5.8],[2,2.8,5.5],[2.05,3,6],[2.1,3,6.3],[2.15,3.2,6.7],[2.2,3.5,6],[2.25,3.5,7.3],[2.3,3,6],[2.35,3,5.5],[2.4,2.8,6.5],[2.45,2.7,5.8],[2.5,2.5,5.5],[2.55,2.5,5.2],[2.6,2.5,5],[2.65,2.3,4.9],[2.7,2.2,4.8],[2.75,1.5,4.5],[2.8,1.2,3.5],[2.85,1,3.8],[2.9,1.5,4.5],[2.95,1,5],[3,1.5,4],[3.05,2.5,5.5],[3.1,3,6.5],[3.15,3,7.8],[3.2,2.5,6],[3.25,2.3,5.8],[3.3,2,5.5],[3.35,2.5,7.5],[3.4,2,5.5],[3.45,1.5,3.5],[3.5,1,3],[3.55,1.5,4],[3.6,2,5.5],[3.65,1.8,4.5],[3.7,1.5,3.8],[3.75,1.5,3.5],[3.8,1.5,3.5],[3.85,2,3.5],[3.9,3,6],[3.95,4,7.4],[4,3,5.5],[4.05,1.5,3.5],[4.1,1.5,3],[4.15,1.6,3.7],[4.2,1,2.5],[4.25,1.5,2.5],[4.3,0.8,2.2],[4.35,1.5,3],[4.4,2,3.5],[4.45,2.2,4],[4.5,2.5,4.5],[4.55,2.8,4.8],[4.6,3,5.2],[4.65,3.5,5.5],[4.7,3,5],[4.75,2.9,5],[4.8,2.8,5],[4.85,3.5,5.8],[4.9,4,7.5],[4.95,4,6.5],[5,4.5,7],[5.05,3.5,5.5],[5.1,2.5,4.5],[5.15,3,4.5],[5.2,2,4],[5.25,1,3],[5.3,1.5,3.5],[5.35,2,4.5],[5.4,2,5.5],[5.43,3,8.3],[5.45,2.5,5],[5.5,2.5,6.5],[5.55,2,4.5],[5.6,2.5,5],[5.65,2.5,5],[5.7,3,5],[5.75,3,5.5],[5.8,3,5],[5.85,3,5],[5.9,3.5,5],[5.95,3.5,5.5],[6,3.5,5],[6.05,3.5,5],[6.1,3,4.5],[6.15,2.5,3.5],[6.2,1,3],[6.25,0.3,2],[6.3,0.5,2],[6.35,1,3.5],[6.4,1,4],[6.45,1.5,4.5],[6.5,2,5],[6.55,2.5,4.5],[6.6,2.5,4.5],[6.65,2.5,4.5],[6.7,3,5.5],[6.75,3,5.7],[6.8,3.5,6.2],[6.85,2,4.5],[6.9,1,3],[6.95,1.5,3.5],[7,2,4],[7.05,2,4.4],[7.1,2,4],[7.15,2,4],[7.2,1.5,3.5],[7.25,1,2.5],[7.3,0.5,2.5],[7.35,1,3],[7.4,1.5,4],[7.45,2,4],[7.5,2.5,4.5],[7.55,2.5,5],[7.6,3,5],[7.65,3,5],[7.7,3.5,7.5],[7.75,3.5,6],[7.8,2.5,4.5],[7.83,0.3,3],[7.9,2,4],[7.95,3,5.5],[8,3,5],[8.05,3.5,5.1],[8.1,3,5],[8.15,3.5,5],[8.2,3.5,5.5],[8.25,3.5,6],[8.3,4,8],[8.35,3.5,6.5],[8.4,3.5,7],[8.45,3.5,5.5],[8.5,3,5],[8.55,2.8,5],[8.6,3,5],[8.65,3,5],[8.7,3,5.5],[8.75,3,5],[8.8,3,5],[8.85,3,5],[8.9,3,5],[8.95,3,5],[9,3,5.5],[9.05,3,5],[9.1,3,5],[9.15,3,4.5],[9.2,3,6.2],[9.25,3,4.5],[9.3,2.5,4.5],[9.35,2.5,4],[9.4,1.5,3.5],[9.45,2,3.5],[9.5,2,3.5],[9.55,2,3.5],[9.6,2,3.5],[9.65,2,3.5],[9.7,2.5,4.5],[9.75,3,4.5],[9.8,2.5,4],[9.85,2.5,4],[9.9,2,4],[9.95,2,4],[10,2.5,3.5]];

const wspd150 = [[0,3.5,6.6],[0.03,3.5,5.5],[0.05,3.5,4.5],[0.1,3.3,4.3],[0.15,4,5.7],[0.2,3.8,5.5],[0.25,2.5,5],[0.3,2.5,6],[0.35,3,7.3],[0.4,3.5,7.8],[0.45,4,7],[0.5,4.5,7.3],[0.55,4,8.3],[0.6,3.8,7.5],[0.65,4,7],[0.7,4.5,8],[0.75,4.5,8.5],[0.8,5,9.3],[0.85,6,11.1],[0.91,7,13.4],[0.95,8,12.5],[1,9,13],[1.05,9.5,14.1],[1.1,8.5,13.5],[1.15,7.5,12],[1.2,6,10.6],[1.25,4.5,8],[1.3,3.5,6],[1.35,4,11.6],[1.4,5,10],[1.45,6,11],[1.5,6.5,12.9],[1.55,7,14],[1.6,7.5,15],[1.65,7,13.7],[1.7,6.5,12],[1.75,6,11],[1.8,5.5,10.5],[1.85,5,10.5],[1.9,5.5,10],[1.95,5,9.5],[2,5,9.5],[2.05,5.5,12.3],[2.1,5.5,10.5],[2.15,4.5,9.5],[2.2,4,9],[2.25,5,10.1],[2.3,5.5,12.3],[2.35,5.5,11],[2.4,6,11.6],[2.45,6,11],[2.5,5.5,10.5],[2.55,5.5,9.5],[2.6,5,9],[2.65,4.5,8.5],[2.7,4.5,8],[2.75,3.5,7.5],[2.8,2.5,6],[2.85,2,5],[2.9,2,4.5],[2.95,1.5,4],[3,2.5,6],[3.05,4,9],[3.1,5,9.3],[3.15,5.5,12.6],[3.2,6,11],[3.25,5.5,11.4],[3.3,5.5,10],[3.35,4,9],[3.4,3,7],[3.45,2,5],[3.5,1,3.5],[3.55,0.5,2],[3.6,0.5,2.5],[3.7,0.5,3],[3.8,1,3],[3.85,1.5,4],[3.9,2.5,7],[3.95,4,10.1],[4,3,7],[4.05,1.5,4],[4.1,1,3],[4.15,1,2.5],[4.2,1,3],[4.25,1.5,4],[4.3,2,5],[4.35,2.2,5.8],[4.4,2.5,6.5],[4.45,3.5,8],[4.5,4,10],[4.55,4.5,10.8],[4.6,5,10.8],[4.65,5.5,11],[4.7,5,10.5],[4.75,4.5,9.5],[4.8,6.5,12],[4.85,7,12.5],[4.9,8,12],[4.95,7.5,12],[5,7.5,12.5],[5.05,6,10],[5.1,5,8],[5.15,4.5,7.5],[5.2,4,6.5],[5.25,2.5,5],[5.3,0.8,4],[5.35,2,6.7],[5.4,2.5,8],[5.45,2.5,7],[5.5,2.5,9],[5.55,2.5,7.5],[5.6,3,7.5],[5.65,2.5,6.5],[5.7,3,9.2],[5.75,3,7],[5.8,3,7],[5.85,3,6.5],[5.9,3.5,7],[5.95,3.5,7.8],[6,4,7.9],[6.05,4.5,7.5],[6.1,4.5,7.3],[6.15,3.5,6.5],[6.2,2.5,5.5],[6.25,1,3.5],[6.3,0.5,2.5],[6.35,0.5,3],[6.4,1,4],[6.45,1.5,6.2],[6.5,2,7.3],[6.55,2.5,7],[6.6,2.5,7.4],[6.65,3,7.5],[6.7,2.5,7],[6.75,2,7.4],[6.8,2.5,7],[6.85,2.5,6],[6.9,1,4.5],[6.95,1,4],[7,1.5,4.5],[7.05,1.5,5],[7.1,1.5,4.5],[7.15,1.5,4.5],[7.2,1,4],[7.25,0.8,3.5],[7.3,0.1,2.5],[7.35,0.8,3],[7.4,1.5,4.7],[7.45,2.5,5.5],[7.5,3,6],[7.55,3,8],[7.6,3,6.5],[7.65,3.5,8],[7.7,4,9.4],[7.75,5,9],[7.8,4.5,8],[7.85,4.5,7.5],[7.9,3.5,7],[7.95,3.5,6],[8,4.5,8.5],[8.05,5,9],[8.1,5,7.5],[8.15,5.5,8.5],[8.2,5,8],[8.25,6,10.8],[8.3,6.5,11.4],[8.35,6,11],[8.4,6,10.8],[8.45,5.5,9],[8.5,5,8],[8.55,4.5,8.5],[8.6,4.5,7.5],[8.65,4,7],[8.7,4,7.3],[8.75,4,6.5],[8.8,4.5,7],[8.85,4,6.5],[8.9,4,6],[8.95,3.8,6],[9,3.5,6],[9.05,4,8.2],[9.1,4,7.5],[9.15,3.5,6.5],[9.2,3.5,7],[9.25,3.5,6],[9.3,3,5.8],[9.35,3,5.5],[9.4,2.5,5],[9.45,2.5,5],[9.5,2,4.5],[9.55,2,5],[9.6,2,4.5],[9.65,1.5,4.5],[9.7,2,6.5],[9.75,2.5,6.7],[9.8,2.5,6],[9.85,2.5,6],[9.9,2.5,5.5],[9.95,2.5,5],[10,3,5.5]];

// ---- drawing ----
const COL30 = '#80cdc1', COL70 = '#dfc27d', COL150 = '#c7eae5', COLP = '#8c510a';
const PL = 137, PR = 1258.5;
const dayTicks = d3.range(0, 11);

const svg = d3.select('#chart');
svg.append('rect').attr('width', 1500).attr('height', 1725).attr('fill', '#fff');
const x = d3.scaleLinear().domain([0, 10]).range([146.6, 1246.6]);

function drawLine(g, y, data, color) {
  const line = d3.line().x(d => x(d[0])).y(d => y(d[1]));
  g.append('path').datum(data).attr('d', line)
    .attr('fill', 'none').attr('stroke', color).attr('stroke-width', 2.6)
    .attr('stroke-linejoin', 'round');
}

function drawBand(g, y, data, color) {
  const area = d3.area().x(d => x(d[0])).y0(d => y(d[1])).y1(d => y(d[2]));
  g.append('path').datum(data).attr('d', area)
    .attr('fill', color).attr('stroke', color).attr('stroke-width', 1.6)
    .attr('stroke-linejoin', 'round');
}

function drawWraps(g, y, spans, spikes, color) {
  g.selectAll(null).data(spans).join('rect')
    .attr('x', d => x(d[0])).attr('width', d => x(d[1]) - x(d[0]))
    .attr('y', y(360)).attr('height', y(0) - y(360)).attr('fill', color);
  g.selectAll(null).data(spikes).join('line')
    .attr('x1', d => x(d)).attr('x2', d => x(d))
    .attr('y1', y(0)).attr('y2', y(360))
    .attr('stroke', color).attr('stroke-width', 2);
}

let clipN = 0;
function panel(cfg) {
  const y = d3.scaleLinear().domain(cfg.domain).range([cfg.bottom, cfg.top]);
  const g = svg.append('g');
  g.append('rect').attr('x', PL).attr('y', cfg.top).attr('width', PR - PL)
    .attr('height', cfg.bottom - cfg.top).attr('fill', '#fff');

  g.selectAll(null).data(cfg.minor).join('line')
    .attr('x1', PL).attr('x2', PR).attr('y1', d => y(d)).attr('y2', d => y(d))
    .attr('stroke', '#f2f2f2').attr('stroke-width', 1.1);
  g.selectAll(null).data(cfg.ticks).join('line')
    .attr('x1', PL).attr('x2', PR).attr('y1', d => y(d)).attr('y2', d => y(d))
    .attr('stroke', '#ebebeb').attr('stroke-width', 2.2);
  g.selectAll(null).data(dayTicks).join('line')
    .attr('x1', d => x(d)).attr('x2', d => x(d)).attr('y1', cfg.top).attr('y2', cfg.bottom)
    .attr('stroke', '#c8c8c8').attr('stroke-width', 1.5);

  // flag strip
  g.append('rect').attr('x', x(0)).attr('width', x(10) - x(0))
    .attr('y', y(cfg.flag[1])).attr('height', y(cfg.flag[0]) - y(cfg.flag[1]))
    .attr('fill', '#bdbdbd').attr('opacity', 0.55);

  const id = 'clip' + (clipN++);
  svg.append('clipPath').attr('id', id).append('rect')
    .attr('x', PL).attr('y', cfg.top).attr('width', PR - PL).attr('height', cfg.bottom - cfg.top);
  const plot = g.append('g').attr('clip-path', `url(#${id})`);
  cfg.draw(plot, y);

  g.append('rect').attr('x', PL).attr('y', cfg.top).attr('width', PR - PL)
    .attr('height', cfg.bottom - cfg.top).attr('fill', 'none')
    .attr('stroke', '#333').attr('stroke-width', 1.6);

  const yAxis = g.append('g').attr('transform', `translate(${PL},0)`)
    .call(d3.axisLeft(y).tickValues(cfg.ticks).tickFormat((d, i) => cfg.tickLabels[i])
      .tickSize(5).tickPadding(8));
  const xAxis = g.append('g').attr('transform', `translate(0,${cfg.bottom})`)
    .call(d3.axisBottom(x).tickValues(dayTicks).tickFormat(d => dayLabels[d])
      .tickSize(5).tickPadding(6));
  [yAxis, xAxis].forEach(a => {
    a.select('.domain').remove();
    a.selectAll('.tick line').attr('stroke', '#333').attr('stroke-width', 1.5);
    a.selectAll('.tick text').attr('fill', '#111').style('font-size', '21px')
      .style('font-family', '"Liberation Sans", Arial, sans-serif');
  });

  // axis title
  const cy = (cfg.top + cfg.bottom) / 2;
  const t = g.append('text').attr('transform', `translate(41,${cy}) rotate(-90)`)
    .attr('text-anchor', 'middle').attr('font-size', 27).attr('fill', '#000');
  cfg.title(t);

  // legend
  cfg.legend.forEach((lab, i) => {
    const ly = cfg.legendY + (i - (cfg.legend.length - 1) / 2) * 30;
    g.append('line').attr('x1', 1288).attr('x2', 1310).attr('y1', ly).attr('y2', ly)
      .attr('stroke', cfg.colors[i]).attr('stroke-width', 2.8);
    g.append('text').attr('x', 1314).attr('y', ly + 6.5).attr('font-size', 18)
      .attr('fill', '#111').text(lab);
  });
}

panel({
  top: 179.3, bottom: 375, domain: [982.24, 1011.45],
  ticks: [990, 1000, 1010], tickLabels: ['990', '1000', '1010'], minor: [985, 995, 1005],
  flag: [983.6, 984.85],
  title: t => t.text('Atm. Pressure (hPa)'),
  legend: legendP, colors: [COLP], legendY: 277.8,
  draw: (g, y) => drawLine(g, y, pressure, COLP)
});

panel({
  top: 420.3, bottom: 675, domain: [5.35, 104.1],
  ticks: [25, 50, 75, 100], tickLabels: ['25', '50', '75', '100'], minor: [12.5, 37.5, 62.5, 87.5],
  flag: [9.7, 20.85],
  title: t => t.text('Rel. Humidity (%)'),
  legend: legendRH, colors: [COL30, COL70, COL150], legendY: 549,
  draw: (g, y) => {
    drawLine(g, y, rh150, COL150);
    drawLine(g, y, rh70, COL70);
    drawLine(g, y, rh30, COL30);
  }
});

panel({
  top: 720.3, bottom: 975, domain: [-3.35, 20.83],
  ticks: [0, 5, 10, 15, 20], tickLabels: ['0', '5', '10', '15', '20'], minor: [-2.5, 2.5, 7.5, 12.5, 17.5],
  flag: [-2.28, 0.45],
  title: t => t.text('Atm. Temperature (°C)'),
  legend: legendRH, colors: [COL30, COL70, COL150], legendY: 850,
  draw: (g, y) => {
    drawLine(g, y, temp150, COL150);
    drawLine(g, y, temp70, COL70);
    drawLine(g, y, temp30, COL30);
  }
});

panel({
  top: 1020.3, bottom: 1275, domain: [-92.8, 379.9],
  ticks: [0, 90, 180, 270, 360], tickLabels: ['North', 'East', 'South', 'West', 'North'],
  minor: [-45, 45, 135, 225, 315],
  flag: [-71.9, -18.6],
  title: t => t.text('Wind direction'),
  legend: legendWind, colors: [COL30, COL70, COL150], legendY: 1151,
  draw: (g, y) => {
    drawWraps(g, y, wdirWrap150, wdirSpike150, COL150);
    drawBand(g, y, wdir150, COL150);
    drawWraps(g, y, wdirWrap70, wdirSpike70, COL70);
    drawBand(g, y, wdir70, COL70);
    drawWraps(g, y, wdirWrap30, wdirSpike30, COL30);
    drawBand(g, y, wdir30, COL30);
  }
});

panel({
  top: 1320.3, bottom: 1575, domain: [-3.77, 15.82],
  ticks: [0, 5, 10, 15], tickLabels: ['0', '5', '10', '15'], minor: [-2.5, 2.5, 7.5, 12.5],
  flag: [-2.9, -0.69],
  title: t => {
    t.append('tspan').text('Wind speed (m.s');
    t.append('tspan').attr('dy', -10).attr('font-size', 18).text('−1');
    t.append('tspan').attr('dy', 10).text(')');
  },
  legend: legendWind, colors: [COL30, COL70, COL150], legendY: 1481,
  draw: (g, y) => {
    drawBand(g, y, wspd150, COL150);
    drawBand(g, y, wspd70, COL70);
    drawBand(g, y, wspd30, COL30);
  }
});

// ---- header ----
svg.append('text').attr('x', 13).attr('y', 86).attr('font-size', 72)
  .attr('font-weight', 700).style('font-family', '"Open Sans", "DejaVu Sans", sans-serif')
  .attr('fill', '#444').attr('textLength', 163).attr('lengthAdjust', 'spacingAndGlyphs').text('ICOS');
svg.append('line').attr('x1', 194).attr('x2', 194).attr('y1', 16.5).attr('y2', 102.5)
  .attr('stroke', '#444').attr('stroke-width', 2);
[['#e6326e', 217], ['#1e96e6', 231.5], ['#e6326e', 246]].forEach(([c, cx]) => {
  svg.append('circle').attr('cx', cx).attr('cy', 21).attr('r', 4.6).attr('fill', c);
});
[['Atmosphere', 104], ['Thematic', 79], ['Centre', 57]].forEach(([s, w], i) => {
  svg.append('text').attr('x', 212).attr('y', 46.5 + i * 18.8).attr('font-size', 16)
    .attr('font-weight', 700).attr('fill', '#555')
    .attr('textLength', w).attr('lengthAdjust', 'spacingAndGlyphs').text(s);
});

svg.append('text').attr('x', 751).attr('y', 64).attr('text-anchor', 'middle')
  .attr('font-size', 41).attr('fill', '#000').text('HTM - Meteo - Last 10 days snapshot');
svg.append('text').attr('x', 750).attr('y', 117.5).attr('text-anchor', 'middle')
  .attr('font-size', 30).attr('fill', '#000').text('2025-05-01 - 2025-05-11');
svg.append('text').attr('x', (PL + PR) / 2).attr('y', 159.5).attr('text-anchor', 'middle')
  .attr('font-size', 30).attr('fill', '#000').text('Ambient air (minute data)');

svg.append('text').attr('x', 1487).attr('y', 31).attr('text-anchor', 'end')
  .attr('font-size', 20.5).attr('fill', '#111').text('P0005.3 / plot generated everyday');
svg.append('text').attr('x', 1487).attr('y', 55).attr('text-anchor', 'end')
  .attr('font-size', 20.5).attr('fill', '#111').style('white-space', 'pre')
  .text('update  2025-05-11 05:15');

// ---- bottom legend ----
[['#3b8bd0', 'Invalid data', 1654], ['#111', 'No data generated', 1689]].forEach(([c, s, cy]) => {
  svg.append('line').attr('x1', 183).attr('x2', 183).attr('y1', cy - 8).attr('y2', cy + 8)
    .attr('stroke', c).attr('stroke-width', 2);
  svg.append('text').attr('x', 232).attr('y', cy + 9).attr('font-size', 26)
    .attr('fill', '#111').text(s);
});
</script>
</body>
</html>
